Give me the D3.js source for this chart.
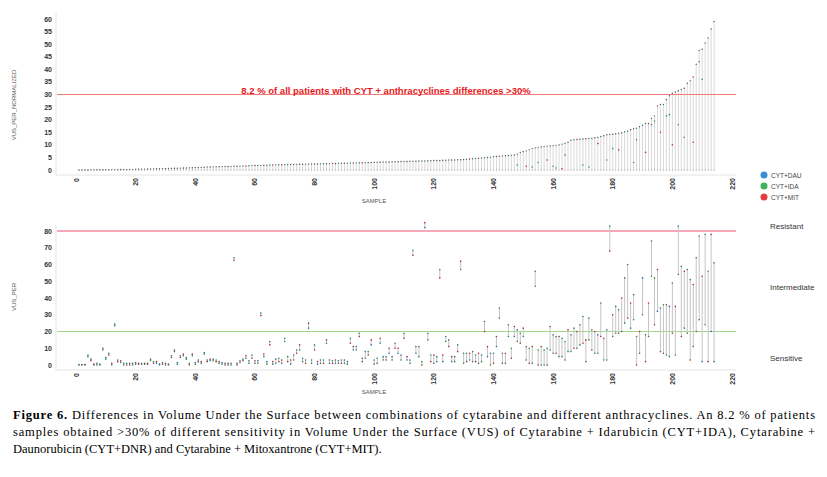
<!DOCTYPE html>
<html><head><meta charset="utf-8">
<script src="https://cdn.jsdelivr.net/npm/d3@7"></script>
<style>body{margin:0;background:#fff}</style>
</head><body>
<svg id="chart" width="827" height="477"></svg>
<script>
// top panel: largest normalized difference per sample (sorted)
const topMax = [
 0,0,0,0,0.05,0.05,0.1,0.1,0.1,0.1,0.1,0.15,0.15,0.2,0.2,0.2,0.2,0.25,0.25,0.3,
 0.3,0.35,0.35,0.4,0.4,0.45,0.5,0.5,0.55,0.6,0.6,0.65,0.7,0.7,0.75,0.8,0.8,0.85,0.9,1.0,
 1.0,1.05,1.1,1.2,1.2,1.25,1.3,1.3,1.35,1.4,1.4,1.45,1.5,1.5,1.55,1.6,1.6,1.7,1.75,1.8,
 1.8,1.85,1.9,1.9,2.0,2.0,2.05,2.1,2.1,2.15,2.2,2.2,2.2,2.25,2.3,2.3,2.3,2.35,2.4,2.4,
 2.4,2.45,2.5,2.5,2.55,2.6,2.6,2.65,2.7,2.7,2.75,2.8,2.8,2.85,2.9,2.9,2.95,3.0,3.0,3.05,
 3.1,3.1,3.15,3.2,3.2,3.25,3.3,3.3,3.35,3.4,3.4,3.45,3.5,3.5,3.55,3.6,3.6,3.65,3.7,3.75,
 3.8,3.8,3.85,3.9,3.95,4.0,4.0,4.05,4.1,4.15,4.3,4.4,4.5,4.6,4.7,4.8,4.9,5.0,5.1,5.3,
 5.4,5.5,5.6,5.7,5.8,5.9,6.0,6.3,7.0,7.3,7.6,8.0,8.5,8.8,9.0,9.2,9.3,9.5,9.6,9.7,
 9.8,10.0,10.3,10.6,11.0,11.8,12.0,12.1,12.2,12.3,12.4,12.5,12.6,12.8,13.0,13.3,13.6,14.0,14.1,14.2,
 14.4,14.6,14.8,15.2,15.5,16.0,16.4,16.6,17.2,17.8,18.5,18.5,20.5,21.5,25.5,26.0,26.0,28.0,29.5,30.5,
 31.0,31.5,32.0,32.5,34.5,35.5,37.0,42.0,47.5,48.0,50.5,52.5,56.0,59.0
]
// top panel: visible lower points [sample, value, combo]
const topLow = [
 [148,2,0],[151,1.5,2],[153,1.2,1],[155,3,0],[158,4,2],[160,1.5,0],[161,0.8,1],[163,0.5,2],[164,6,0],
 [170,2,1],[172,1.2,0],[175,10.5,2],[178,4,1],[180,8.5,0],[182,8,2],[187,3,1],[188,12,0],[191,7,2],
 [193,18,0],[194,19.5,1],[196,15,2],[198,21.5,0],[199,22,1],[200,10,2],[202,18,0],[204,13,1],[207,11,2],
 [209,43,0],[210,36,1]
]
// bottom panel: range of VUS_PER between combinations
const botLo = [
 0,0,0,5,2.5,0,0,0,9,3.5,6,0,23.5,2,1.5,0,0,0,0,0.5,
 0.5,0.5,0.5,0.5,2.5,1,1,0,0.5,0,0,4.5,8,0.5,4.5,5.5,3.5,0,5.5,0.5,
 2,1,6.5,2,2.5,2.5,2,1,0.5,0,0,0,62.5,0,1.5,2.5,4,1,4,1,
 1,29.5,5,0.5,12,0.5,1,2,1,14,2,0.5,3,7,9,2,1,22,1,9,
 0.5,1,1,13,1,1,1,1,1,1,0.5,13,9,9,17,2,4,6,12,0.5,
 1,13,3,3,7,3,10,7,3,16,3,1,65.5,7,5,0,82,15,2,1,
 2,52,2,14,11,2,2,8,57,1,2,3,2,2,1,2,20,5,0,1,
 11,28,1,1,17,4,17,14,13,17,3,1,1,47,0,0,0,0,9,7,
 7,5,5,3,8,8,10,10,12,13,2,15,9,7,7,17,3,3,68,17,
 19,19,20,25,28,22,27,0,7,30,2,17,53,24,32,8,7,6,5,19,
 6,54,17,22,19,3,11,20,27,2,24,2,20,2
]
const botHi = [
 0.3,0.3,0.3,6,3.5,0.5,1,0.5,10,4.5,7,1,24.5,3,2.5,1,1,1,1,1.5,
 1,1,1,1,3.5,2,2,0.5,1.5,1,0.5,5.5,9,1.5,5.5,6.5,4.5,1,6.5,1.5,
 3,2,7.5,3,3.5,3.5,3,2,1.5,1,1,1,64,1,2.5,3.5,5.5,2.5,6,2.5,
 2.5,31,6.5,2,14,2,3.5,4,3,16,5,3,6,9,12,4,3,25,3,12,
 2,3,3,15,3,2.5,3,2.5,3,3,2,16,11,11,19,4,8,8,15,3,
 4,16,5,5,10,5,13,10,6,19,5,3,68.5,11,11,2,85,19,6,6,
 5,57,6,17,15,5,5,12,62,7,7,7,8,6,7,6,26,11,7,7,
 17,34,7,7,24,10,23,21,19,22,11,10,11,56,9,11,9,10,23,18,
 17,17,16,14,21,18,22,20,24,29,15,28,21,20,18,37,16,21,83,30,
 35,33,40,52,60,37,42,17,20,52,18,37,74,52,57,34,36,36,35,49,
 35,83,59,56,57,51,48,64,77,53,78,56,78,61
]
const comboNames = ['CYT+DAU', 'CYT+IDA', 'CYT+MIT']
const comboColors = ['#3a8fd8', '#3cb45a', '#e23b40']
const topTicks = d3.range(0, 61, 5)
const botTicks = d3.range(0, 81, 10)
const xTicks = d3.range(0, 221, 20)
const zoneLabels = ['Resistant', 'Intermediate', 'Sensitive']
const captionLines = [
 ['Figure 6.', ' Differences in Volume Under the Surface between combinations of cytarabine and different anthracyclines. An 8.2 % of patients'],
 ['', 'samples obtained >30% of different sensitivity in Volume Under the Surface (VUS) of Cytarabine + Idarubicin (CYT+IDA), Cytarabine +'],
 ['', 'Daunorubicin (CYT+DNR) and Cytarabine + Mitoxantrone (CYT+MIT).']
]

const svg = d3.select('#chart')
const x = d3.scaleLinear().domain([0, 220]).range([76, 732])
const yTop = d3.scaleLinear().domain([0, 60]).range([170, 19])
const yBot = d3.scaleLinear().domain([0, 80]).range([365, 231])
const sans = "'Liberation Sans', Arial, sans-serif"

function panel(y, ticks, axisY, labelY, yLabel, yLabelPos) {
    const g = svg.append('g')
    g.append('line').attr('x1', 56).attr('x2', 56).attr('y1', y.range()[1] - 6).attr('y2', axisY).attr('stroke', '#e4e4e4')
    g.append('line').attr('x1', 56).attr('x2', 736).attr('y1', axisY).attr('y2', axisY).attr('stroke', '#e4e4e4')
    g.selectAll('.yt').data(ticks).join('text')
        .attr('x', 52).attr('y', d => y(d) + 2.5).attr('text-anchor', 'end')
        .attr('font-family', sans).attr('font-size', 7).attr('font-weight', 'bold').attr('fill', '#333')
        .text(d => d)
    g.selectAll('.xt').data(xTicks).join('text')
        .attr('transform', d => `translate(${x(d) + 2.5},${axisY + 3}) rotate(-90)`)
        .attr('text-anchor', 'end')
        .attr('font-family', sans).attr('font-size', 7).attr('font-weight', 'bold').attr('fill', '#333')
        .text(d => d)
    g.append('text').attr('x', 374).attr('y', labelY).attr('text-anchor', 'middle')
        .attr('font-family', sans).attr('font-size', 6).attr('fill', '#555').text('SAMPLE')
    g.append('text').attr('transform', `translate(16,${yLabelPos}) rotate(-90)`).attr('text-anchor', 'middle')
        .attr('font-family', sans).attr('font-size', 6).attr('fill', '#555').text(yLabel)
    return g
}

// top panel
const gt = panel(yTop, topTicks, 175, 203, 'VUS_PER_NORMALIZED', 105)
gt.selectAll('.stem').data(topMax).join('line')
    .attr('x1', (d, i) => x(i + 1)).attr('x2', (d, i) => x(i + 1))
    .attr('y1', yTop(0)).attr('y2', d => yTop(d))
    .attr('stroke', '#cfcfcf').attr('stroke-width', 0.8)
gt.selectAll('.top').data(topMax).join('circle')
    .attr('cx', (d, i) => x(i + 1)).attr('cy', d => yTop(d)).attr('r', 0.7)
    .attr('fill', (d, i) => d3.color(comboColors[i % 3]).darker(1))
gt.selectAll('.base').data(topMax).join('circle')
    .attr('cx', (d, i) => x(i + 1)).attr('cy', yTop(0)).attr('r', 0.6).attr('fill', '#889')
gt.selectAll('.low').data(topLow).join('circle')
    .attr('cx', d => x(d[0])).attr('cy', d => yTop(d[1])).attr('r', 0.8)
    .attr('fill', d => d3.color(comboColors[d[2]]).darker(0.5))
gt.append('line').attr('x1', 57).attr('x2', 736).attr('y1', yTop(30)).attr('y2', yTop(30))
    .attr('stroke', '#f07a7a').attr('stroke-width', 1)
gt.append('text').attr('x', 386).attr('y', yTop(30) - 1).attr('text-anchor', 'middle')
    .attr('font-family', sans).attr('font-size', 9.5).attr('font-weight', 'bold').attr('fill', '#e8191c')
    .text('8.2 % of all patients with CYT + anthracyclines differences >30%')

// legend
const lg = svg.append('g').selectAll('g').data(comboNames).join('g')
    .attr('transform', (d, i) => `translate(764,${175 + i * 11})`)
lg.append('circle').attr('r', 3.5).attr('fill', (d, i) => comboColors[i])
lg.append('text').attr('x', 7).attr('y', 2.5).attr('font-family', sans)
    .attr('font-size', 6.5).attr('fill', '#444').text(d => d)

// bottom panel
const gb = panel(yBot, botTicks, 370, 394, 'VUS_PER', 297)
gb.append('line').attr('x1', 57).attr('x2', 736).attr('y1', yBot(80)).attr('y2', yBot(80))
    .attr('stroke', '#f5a9b8').attr('stroke-width', 2)
gb.append('line').attr('x1', 57).attr('x2', 736).attr('y1', yBot(20)).attr('y2', yBot(20))
    .attr('stroke', '#9fd68c').attr('stroke-width', 1.2)
gb.selectAll('.rng').data(botLo).join('line')
    .attr('x1', (d, i) => x(i + 1)).attr('x2', (d, i) => x(i + 1))
    .attr('y1', d => yBot(d)).attr('y2', (d, i) => yBot(botHi[i]))
    .attr('stroke', '#c4c4c4').attr('stroke-width', 1)
gb.selectAll('.lo').data(botLo).join('circle')
    .attr('cx', (d, i) => x(i + 1)).attr('cy', d => yBot(d)).attr('r', 0.8)
    .attr('fill', (d, i) => d3.color(comboColors[(i + 1) % 3]).darker(0.8))
gb.selectAll('.hi').data(botHi).join('circle')
    .attr('cx', (d, i) => x(i + 1)).attr('cy', d => yBot(d)).attr('r', 0.8)
    .attr('fill', (d, i) => d3.color(comboColors[i % 3]).darker(0.8))
svg.selectAll('.zone').data(zoneLabels).join('text')
    .attr('x', 770).attr('y', (d, i) => [229, 290, 361][i])
    .attr('font-family', sans).attr('font-size', 8).attr('fill', '#333').text(d => d)

// caption
const cap = svg.append('g')
captionLines.forEach((l, i) => {
    const t = cap.append('text').attr('x', 13).attr('y', 419 + i * 17)
        .attr('font-family', "'Liberation Serif', 'Times New Roman', serif").attr('font-size', 12.5).attr('fill', '#000')
    if (i < 2) t.attr('textLength', 802).attr('lengthAdjust', 'spacing')
    if (l[0]) t.append('tspan').attr('font-weight', 'bold').text(l[0])
    t.append('tspan').text(l[1])
})
</script>
</body></html>
